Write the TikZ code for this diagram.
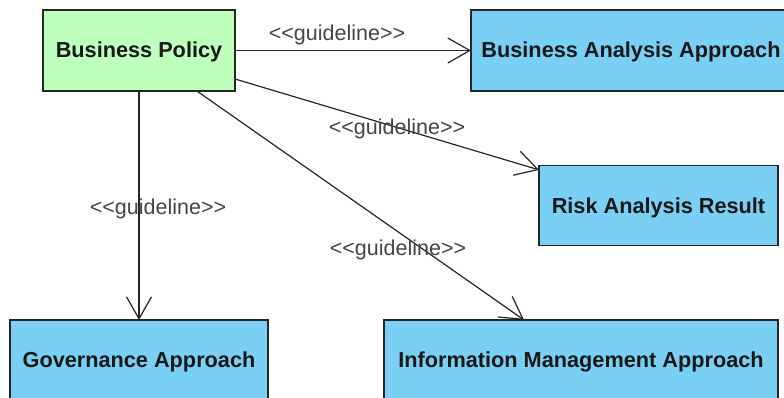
\documentclass[tikz,border=0pt]{standalone}
\usepackage{fontspec}
\setmainfont{Liberation Sans}
\usetikzlibrary{arrows.meta}
\definecolor{boxblue}{RGB}{122,207,245}
\definecolor{boxgreen}{RGB}{190,255,190}
\definecolor{labelgray}{RGB}{70,70,70}
\newcommand{\guidetext}{<\kern0pt<guideline>\kern0pt>}
\begin{document}
\begin{tikzpicture}[x=1pt,y=-1pt,
  box/.style={draw=black!85, line width=1.3pt, rectangle, inner sep=0pt, outer sep=0pt,
    text height=15.5pt, text depth=0.5pt,
    font=\fontsize{21.7}{25}\selectfont\bfseries, text=black!90},
  bluebox/.style={box, fill=boxblue},
  greenbox/.style={box, fill=boxgreen},
  guide/.style={draw=black!85, line width=1.2pt, -{Straight Barb[length=22pt,width=25pt,line width=1.2pt]}},
  lbl/.style={font=\fontsize{21.5}{25}\selectfont, text=labelgray, inner sep=0pt}
]
\useasboundingbox (0,0) rectangle (784,398);
\clip (0,0) rectangle (784,398);
\fill[white] (0,0) rectangle (784,398);

\node[greenbox, minimum width=192pt, minimum height=81pt] (bp) at (139,50.5) {Business Policy};
\node[bluebox, minimum width=320pt, minimum height=81pt] (baa) at (631,50.5) {Business Analysis Approach};
\node[bluebox, minimum width=239pt, minimum height=80pt] (rar) at (658.5,205.5) {Risk Analysis Result};
\node[bluebox, minimum width=258pt, minimum height=80pt] (gov) at (139,360) {Governance Approach};
\node[bluebox, minimum width=394pt, minimum height=80pt] (ima) at (581,360) {Information Management Approach};

\draw[guide] (bp) -- (baa);
\draw[guide] (bp) -- (rar);
\draw[guide] (bp) -- (gov);
\draw[guide] (bp) -- (ima);

\node[lbl] (l1) at (337,35) {\guidetext};
\node[lbl] (l2) at (397,129) {\guidetext};
\node[lbl] (l3) at (158,209) {\guidetext};
\node[lbl] (l4) at (398,250) {\guidetext};
\end{tikzpicture}
\end{document}
